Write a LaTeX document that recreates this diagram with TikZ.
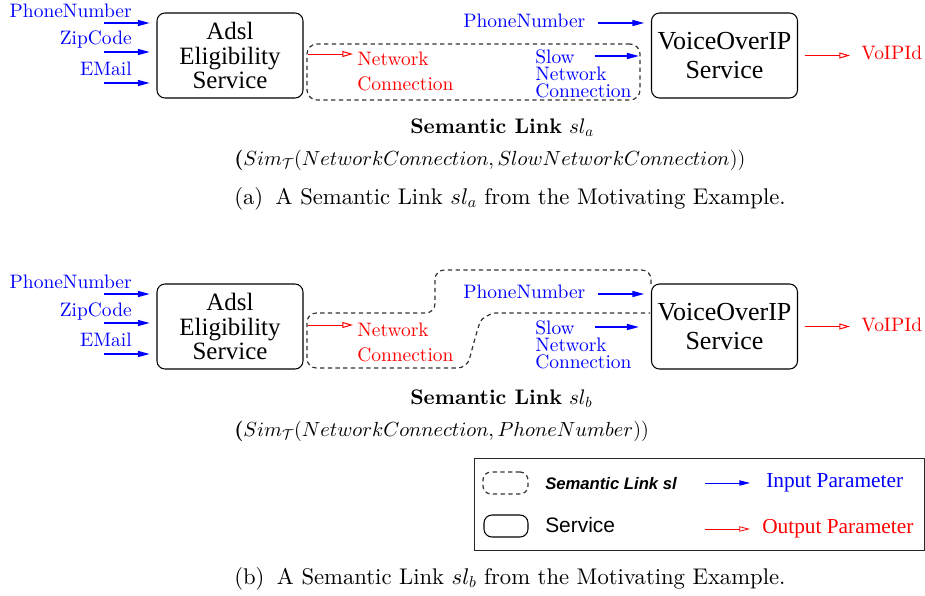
\RequirePackage{fix-cm}
\documentclass[tikz,border=0pt]{standalone}
\usepackage{fontspec}
\setmainfont{lmroman10-regular.otf}[BoldFont=lmroman10-bold.otf, ItalicFont=lmroman10-italic.otf, BoldItalicFont=lmroman10-bolditalic.otf]
\DeclareFontFamily{OML}{cmm}{\skewchar\font127}
\DeclareFontShape{OML}{cmm}{m}{it}{<->cmmi10}{}
\DeclareFontFamily{OMS}{cmsy}{\skewchar\font48}
\DeclareFontShape{OMS}{cmsy}{m}{n}{<->cmsy10}{}
\usetikzlibrary{arrows.meta}
\newfontfamily\timesf{Liberation Serif}
\newfontfamily\helvf{Liberation Sans}

\tikzset{
  svc/.style={draw, rounded corners=6pt, line width=0.8pt, minimum width=109.5pt, minimum height=63.75pt, inner sep=0pt, align=center, font=\timesf\fontsize{18.7}{18.4}\selectfont},
  svcv/.style={svc, font=\timesf\fontsize{19.5}{21.75}\selectfont},
  inarr/.style={blue, line width=1.1pt, -{Triangle[length=9pt,width=4.5pt]}},
  outarr/.style={red, line width=0.75pt, -{Triangle[open,length=8pt,width=4.5pt]}},
  legin/.style={blue, line width=0.7pt, -{Triangle[length=8pt,width=4pt]}},
  legout/.style={red, line width=0.6pt, -{Triangle[open,length=8pt,width=4pt]}},
  plab/.style={inner sep=0pt, font=\fontsize{14.6}{17}\selectfont},
  link/.style={draw=black!80, dash pattern=on 3.2pt off 2.6pt, line width=0.9pt},
  txt/.style={inner sep=0pt, anchor=base west},
}

\newcommand\svcpart[1]{%
  \node[svc] (adsl#1) at (230,55.5) {Adsl\\Eligibility\\Service};
  \node[svcv] (voip#1) at (724.5,55.5) {VoiceOverIP\\Service};
  \node[plab, blue, anchor=base east] (pn#1) at (132,17) {PhoneNumber};
  \node[plab, blue, anchor=base east] (zc#1) at (132,45) {ZipCode};
  \node[plab, blue, anchor=base east] (em#1) at (132,75) {EMail};
  \coordinate (ipn#1) at (104,23);
  \coordinate (izc#1) at (104,52);
  \coordinate (iem#1) at (104,83);
  \draw[inarr, shorten >=5pt] (ipn#1) -- (ipn#1 -| adsl#1.west);
  \draw[inarr, shorten >=5pt] (izc#1) -- (izc#1 -| adsl#1.west);
  \draw[inarr, shorten >=5pt] (iem#1) -- (iem#1 -| adsl#1.west);
  \node[plab, red, txt] (nc#1) at (357,65) {Network};
  \node[plab, red, txt] (ncc#1) at (357,90) {Connection};
  \coordinate (onc#1) at (353,54);
  \draw[outarr, shorten <=3pt] (onc#1 -| adsl#1.east) -- (onc#1);
  \node[plab, blue, txt] (pnv#1) at (463,27) {PhoneNumber};
  \coordinate (ipnv#1) at (598,23);
  \draw[inarr, shorten >=5pt] (ipnv#1) -- (ipnv#1 -| voip#1.west);
  \node[plab, blue, txt] (sl#1) at (535,63) {Slow};
  \node[plab, blue, txt] (sn#1) at (535,80) {Network};
  \node[plab, blue, txt] (sc#1) at (535,97) {Connection};
  \coordinate (isl#1) at (595,56);
  \draw[inarr, shorten >=9pt] (isl#1) -- (isl#1 -| voip#1.west);
  \coordinate (ovo#1) at (850,55.5);
  \draw[outarr, shorten <=5pt] (voip#1.east) -- (ovo#1);
  \node[plab, red, txt] (vo#1) at (861,60) {VoIPId};
}

\begin{document}
\begin{tikzpicture}[x=0.75pt,y=-0.75pt]
\useasboundingbox (0,0) rectangle (925,596);

% ---------- part (a)
\svcpart{a}
\node[link, rounded corners=7.5pt, minimum width=249.75pt, minimum height=42pt, inner sep=0pt] (slinka) at (473.5,72) {};
\node[txt, font=\fontsize{15.8}{18}\selectfont] (tsla) at (410,133) {\textbf{Semantic Link} $sl_a$};
\node[txt, font=\fontsize{15.3}{18}\selectfont] (sima) at (234,165) {\textbf{(}$Sim_{\mathcal{T}}(NetworkConnection,SlowNetworkConnection))$};
\node[txt, font=\fontsize{17}{20}\selectfont] (capa) at (234,204) {(a)\hspace{0.55em}A Semantic Link $sl_a$ from the Motivating Example.};

% ---------- part (b)
\begin{scope}[shift={(0,271)}]
\svcpart{b}
\draw[link, rounded corners=7pt] (651,13) -- (651,-1) -- (435,-1) -- (435,42) -- (307,42) -- (307,97) -- (467,97) -- (477,60) .. controls (481,48) and (490,42) .. (505,42) -- (650,42);
\node[txt, font=\fontsize{15.8}{18}\selectfont] (tslb) at (410,133) {\textbf{Semantic Link} $sl_b$};
\node[txt, font=\fontsize{15.3}{18}\selectfont] (simb) at (234,165) {\textbf{(}$Sim_{\mathcal{T}}(NetworkConnection,PhoneNumber))$};
\end{scope}

% ---------- legend
\node[draw=black!85, line width=0.8pt, minimum width=337.5pt, minimum height=69pt, inner sep=0pt, anchor=north west] (legend) at (474,458) {};
\node[link, rounded corners=6pt, minimum width=33.75pt, minimum height=16.5pt, inner sep=0pt] (lsl) at (505.5,483) {};
\node[txt, font=\helvf\bfseries\itshape\fontsize{12.5}{14}\selectfont] (lslt) at (545,489) {Semantic Link sl};
\node[draw, rounded corners=6pt, line width=0.8pt, minimum width=33pt, minimum height=16.5pt, inner sep=0pt] (lsv) at (506,526) {};
\node[txt, font=\helvf\fontsize{15.7}{18}\selectfont] (lsvt) at (545,532) {Service};
\coordinate (lia) at (705,483);
\coordinate (lib) at (750,483);
\draw[legin] (lia) -- (lib);
\node[txt, blue, font=\timesf\fontsize{16}{18}\selectfont] (lint) at (766,487) {Input Parameter};
\coordinate (loa) at (705,529);
\coordinate (lob) at (750,529);
\draw[legout] (loa) -- (lob);
\node[txt, red, font=\timesf\fontsize{16}{18}\selectfont] (loutt) at (762,533) {Output Parameter};

\node[txt, font=\fontsize{17}{20}\selectfont] (capb) at (234,584) {(b)\hspace{0.55em}A Semantic Link $sl_b$ from the Motivating Example.};
\end{tikzpicture}
\end{document}
